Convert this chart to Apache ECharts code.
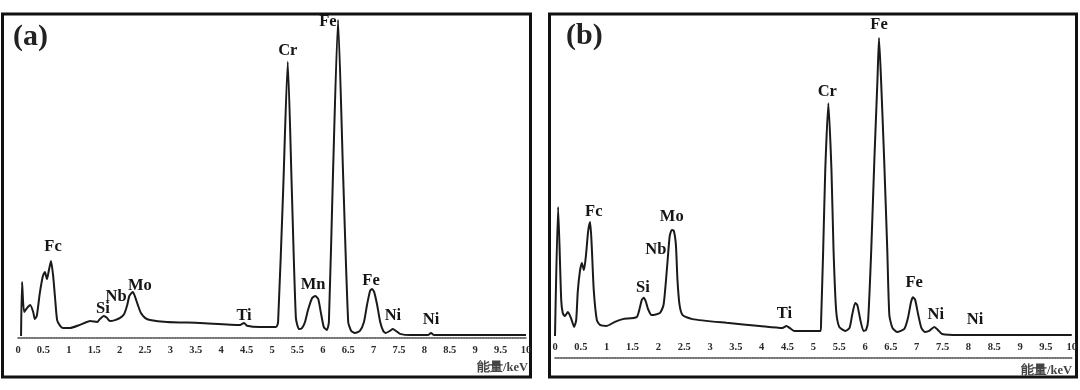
<!DOCTYPE html>
<html>
<head>
<meta charset="utf-8">
<script src="https://cdn.jsdelivr.net/npm/echarts@6/dist/echarts.min.js"></script>
<style>
html,body{margin:0;padding:0;background:#fff;}
#chart{width:1080px;height:390px;}
</style>
</head>
<body>
<div id="chart"></div>
<script>
// ---- Data (energy in keV, intensity in arbitrary units 0-100) ----
const specA = [[0.06,0.6],[0.08,17.5],[0.12,8.1],[0.18,9.4],[0.24,10.3],[0.30,8.1],[0.33,5.9],[0.37,6.9],[0.43,14.1],[0.49,19.4],[0.53,20.6],[0.57,18.4],[0.61,21.3],[0.65,24.1],[0.69,19.7],[0.73,12.5],[0.77,5.6],[0.83,3.8],[0.89,3.1],[1.02,3.1],[1.22,4.1],[1.42,5.3],[1.56,5.0],[1.61,5.9],[1.69,6.9],[1.75,6.3],[1.81,5.3],[1.91,5.6],[2.01,6.3],[2.09,7.5],[2.15,10.3],[2.19,13.1],[2.22,13.8],[2.26,14.4],[2.30,13.1],[2.36,10.3],[2.42,7.8],[2.50,6.3],[2.60,5.6],[2.93,5.0],[3.58,4.7],[4.37,4.1],[4.45,4.7],[4.51,3.8],[4.76,3.4],[5.08,3.4],[5.12,5.0],[5.22,46.3],[5.31,86.3],[5.39,46.3],[5.47,6.3],[5.53,2.8],[5.59,3.1],[5.65,5.0],[5.71,8.8],[5.79,12.5],[5.85,13.1],[5.91,12.2],[5.96,8.1],[6.02,3.4],[6.08,2.5],[6.12,5.0],[6.20,50.9],[6.30,99.4],[6.40,50.9],[6.50,5.0],[6.56,2.2],[6.63,1.6],[6.73,2.2],[6.81,5.0],[6.87,10.3],[6.93,14.7],[6.97,15.3],[7.01,14.4],[7.07,10.3],[7.13,5.0],[7.19,2.2],[7.24,1.6],[7.32,2.2],[7.38,2.8],[7.44,2.2],[7.52,1.3],[7.72,0.9],[8.07,0.9],[8.13,1.6],[8.19,0.9],[8.50,0.9],[10.0,0.9]];

const specB = [[0.00,6.5],[0.06,44.7],[0.12,17.2],[0.15,13.3],[0.19,12.4],[0.25,13.6],[0.31,11.8],[0.37,9.2],[0.41,11.2],[0.44,19.5],[0.48,25.4],[0.52,28.1],[0.56,26.0],[0.60,30.5],[0.64,37.3],[0.68,40.2],[0.71,33.4],[0.75,20.1],[0.81,11.2],[0.87,9.8],[1.00,9.5],[1.16,10.7],[1.31,11.5],[1.58,12.1],[1.64,14.8],[1.68,17.2],[1.72,17.8],[1.76,16.6],[1.80,14.5],[1.87,12.7],[2.03,13.3],[2.10,15.7],[2.14,21.6],[2.18,29.0],[2.22,36.1],[2.26,37.9],[2.30,37.6],[2.34,33.4],[2.37,23.1],[2.41,15.7],[2.47,12.7],[2.66,11.5],[3.32,10.4],[3.96,9.5],[4.40,8.9],[4.48,9.5],[4.54,8.9],[4.63,8.0],[5.14,8.0],[5.15,11.2],[5.19,32.0],[5.23,55.6],[5.29,75.4],[5.35,55.6],[5.39,32.0],[5.44,14.2],[5.50,9.2],[5.62,8.0],[5.70,8.9],[5.75,12.7],[5.81,16.3],[5.85,15.7],[5.91,11.2],[5.97,8.0],[6.02,8.3],[6.06,11.2],[6.12,32.0],[6.18,58.6],[6.24,82.2],[6.27,94.7],[6.31,82.2],[6.37,58.6],[6.43,32.0],[6.47,12.7],[6.53,8.9],[6.62,7.7],[6.76,8.6],[6.83,11.8],[6.89,16.6],[6.93,18.0],[6.97,17.2],[7.03,12.7],[7.09,8.9],[7.16,7.7],[7.24,8.0],[7.34,9.2],[7.41,8.3],[7.49,7.1],[7.82,6.8],[10.0,6.8]];

// Peak annotations: element name, energy (keV), label height (intensity units)
const peakNamesA = ['Fc','Si','Nb','Mo','Ti','Cr','Fe','Mn','Fe','Ni','Ni'];
const peakKeVA   = [0.69,1.67,1.93,2.40,4.45,5.31,6.10,5.81,6.95,7.38,8.13];
const peakPosA   = [28.4,9.1,12.8,16.3,6.9,89.7,98.8,16.6,17.8,6.9,5.6];

const peakNamesB = ['Fc','Si','Nb','Mo','Ti','Cr','Fe','Fe','Ni','Ni'];
const peakKeVB   = [0.75,1.70,1.95,2.26,4.44,5.27,6.27,6.95,7.37,8.13];
const peakPosB   = [43.2,20.7,32.0,41.7,13.0,78.7,98.5,22.2,12.7,11.2];

const panelTitles = ['(a)','(b)'];
const axisTitle = '能量/keV';

// ---- Chart ----
const chart = echarts.init(document.getElementById('chart'), null, {renderer:'canvas'});

function peakData(names, xs, ys){
  return names.map((n,i)=>({name:n, value:[xs[i], ys[i]]}));
}

const serif = '"Liberation Serif","DejaVu Serif",serif';
const lineStyle = {color:'#1a1a1a', width:2};

function xAxisCfg(gridIndex, inside){
  return {
    type:'value', gridIndex, min:0, max:10, interval:0.5,
    axisLine:{show:true, onZero:false, lineStyle:{color:'#444', width:1.5, type:[1.5,1.2]}},
    axisTick:{show:false},
    splitLine:{show:false},
    axisLabel:{show:true, inside, margin: inside ? 5 : 7, color:'#2a2a2a', fontFamily:serif, fontWeight:'bold', fontSize:10.5,
      showMinLabel:true, showMaxLabel:true}
  };
}
function yAxisCfg(gridIndex){
  return {type:'value', gridIndex, min:0, max:100, show:false, splitLine:{show:false}};
}
const peakLabel = {show:true, position:'inside', formatter:'{b}', color:'#151515',
  fontFamily:serif, fontWeight:'bold', fontSize:16.5};

chart.setOption({
  animation:false,
  backgroundColor:'#fff',
  grid:[
    {left:18, top:18, width:508, height:320},
    {left:555, top:20, width:518, height:338}
  ],
  xAxis:[xAxisCfg(0,false), xAxisCfg(1,true)],
  yAxis:[yAxisCfg(0), yAxisCfg(1)],
  series:[
    {type:'line', xAxisIndex:0, yAxisIndex:0, data:specA, showSymbol:false, smooth:0.2, lineStyle, z:3},
    {type:'line', xAxisIndex:1, yAxisIndex:1, data:specB, showSymbol:false, smooth:0.2, lineStyle, z:3},
    {type:'scatter', xAxisIndex:0, yAxisIndex:0, symbolSize:0, itemStyle:{opacity:1}, data:peakData(peakNamesA,peakKeVA,peakPosA), label:peakLabel, z:4},
    {type:'scatter', xAxisIndex:1, yAxisIndex:1, symbolSize:0, itemStyle:{opacity:1}, data:peakData(peakNamesB,peakKeVB,peakPosB), label:peakLabel, z:4}
  ],
  graphic:[
    {type:'rect', shape:{x:2.5, y:14, width:528, height:363}, style:{fill:'none', stroke:'#111', lineWidth:3}},
    {type:'rect', shape:{x:549.5, y:14, width:527, height:363}, style:{fill:'none', stroke:'#111', lineWidth:3}},
    {type:'text', left:13, top:22, style:{text:panelTitles[0], fill:'#222', font:'bold 30px '+serif}},
    {type:'text', left:566, top:21, style:{text:panelTitles[1], fill:'#222', font:'bold 30px '+serif}},
    {type:'text', right:552, top:361, style:{text:axisTitle, fill:'#444', font:'bold 12.5px '+serif}},
    {type:'text', right:8, top:364, style:{text:axisTitle, fill:'#444', font:'bold 12.5px '+serif}}
  ]
});
</script>
</body>
</html>
